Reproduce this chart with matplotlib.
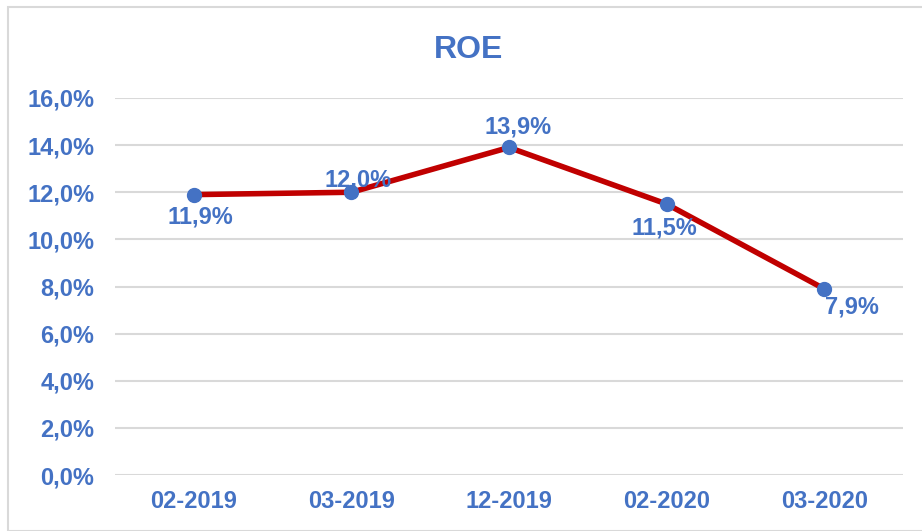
import matplotlib.pyplot as plt
from matplotlib.patches import Rectangle
from matplotlib.ticker import FuncFormatter

periods = ["02-2019", "03-2019", "12-2019", "02-2020", "03-2020"]
roe = [11.9, 12.0, 13.9, 11.5, 7.9]

# data label placement (pixel offsets of the label baseline from each point)
label_offsets = [(7, -29), (7, 6), (9, 14), (-2, -30), (28, -25)]

BLUE = "#4472C4"
RED = "#C00000"
GRID = "#D9D9D9"

plt.rcParams["font.family"] = ["Liberation Sans", "DejaVu Sans"]
plt.rcParams["font.weight"] = "bold"

fig = plt.figure(figsize=(9.22, 5.31), dpi=100)
ax = fig.add_axes([115 / 922, 1 - 475 / 531, (903 - 115) / 922, (475 - 98) / 531])

# outer chart border
fig.patches.append(Rectangle((8 / 922, 0), 1.0, 1 - 7 / 531, transform=fig.transFigure,
                             fill=False, edgecolor="#D9D9D9", linewidth=1.5))

x = list(range(len(periods)))
ax.plot(x, roe, color=RED, linewidth=4, zorder=3)
ax.plot(x, roe, linestyle="none", marker="o", markersize=10,
        color=BLUE, zorder=4)

for xi, v, (dx, dy) in zip(x, roe, label_offsets):
    ax.annotate(f"{v:.1f}%".replace(".", ","), (xi, v), xytext=(dx, dy),
                textcoords="offset pixels", ha="center", va="baseline",
                color=BLUE, fontsize=17, fontweight="bold", zorder=5)

ax.set_xlim(-0.5, len(periods) - 0.5)
ax.set_ylim(0, 16)
ax.set_yticks(range(0, 17, 2))
ax.yaxis.set_major_formatter(FuncFormatter(lambda v, _: f"{v:.1f}%".replace(".", ",")))
ax.set_xticks(x)
ax.set_xticklabels(periods)

ax.grid(axis="y", color=GRID, linewidth=1.5)
ax.set_axisbelow(True)
for s in ax.spines.values():
    s.set_visible(False)
ax.tick_params(length=0, colors=BLUE, labelsize=17)
ax.tick_params(axis="y", pad=15)
ax.tick_params(axis="x", pad=11)
for lbl in ax.get_xticklabels() + ax.get_yticklabels():
    lbl.set_fontweight("bold")

fig.text(469 / 922, 1 - 58 / 531, "ROE", ha="center", va="baseline",
         color=BLUE, fontsize=23, fontweight="bold")

fig.savefig("out.png", dpi=100)
